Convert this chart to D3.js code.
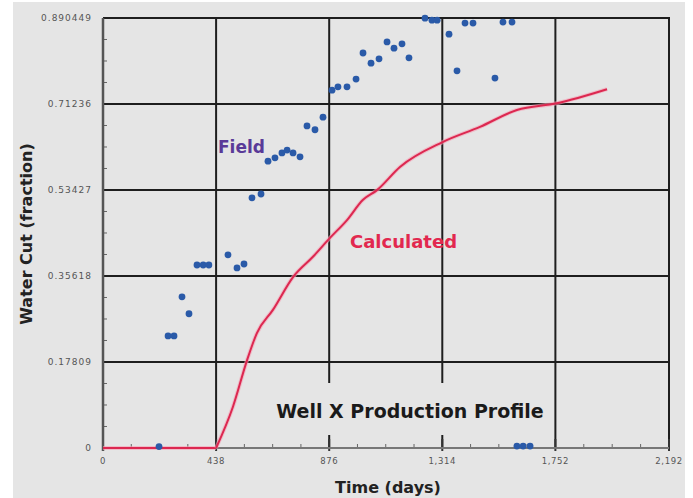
<!DOCTYPE html>
<meta charset="utf-8">
<script src="https://d3js.org/d3.v7.min.js"></script>
<style>
  body { margin: 0; background: #fff; }
  text { font-family: "DejaVu Sans", "Noto Sans", sans-serif; }
</style>
<div id="my_dataviz"></div>
<script>

// tick values and labels
var xTicks = [0, 438, 876, 1314, 1752, 2192];
var xTickLabels = ["0", "438", "876", "1,314", "1,752", "2,192"];
var yTicks = [0, 0.17809, 0.35618, 0.53427, 0.71236, 0.890449];
var yTickLabels = ["0", "0.17809", "0.35618", "0.53427", "0.71236", "0.890449"];

// field measurements (days, water cut)
var fieldDays = [217, 252, 275, 306, 333, 364, 388, 410, 484, 519, 546, 577, 612,
  639, 666, 693, 713, 736, 763, 790, 821, 852, 887, 910, 945, 980,
  1007, 1038, 1069, 1100, 1127, 1158, 1185, 1247, 1274, 1294, 1340, 1371,
  1402, 1433, 1518, 1549, 1584, 1603, 1627, 1654];
var fieldCut = [0.003, 0.232, 0.232, 0.313, 0.278, 0.379, 0.379, 0.379, 0.400, 0.373, 0.381, 0.518, 0.526,
  0.594, 0.601, 0.611, 0.617, 0.611, 0.603, 0.667, 0.659, 0.685, 0.741, 0.748, 0.748, 0.764,
  0.818, 0.797, 0.806, 0.841, 0.828, 0.837, 0.808, 0.890, 0.886, 0.886, 0.857, 0.781,
  0.880, 0.880, 0.766, 0.882, 0.882, 0.004, 0.004, 0.004];

// calculated profile (days, water cut)
var calcDays = [0, 438, 503, 558, 596, 658, 736, 813, 879, 945, 1007, 1061, 1150, 1317, 1460, 1603, 1758, 1952];
var calcCut = [0, 0, 0.085, 0.182, 0.238, 0.286, 0.354, 0.396, 0.435, 0.472, 0.514, 0.534, 0.582, 0.634, 0.665, 0.700, 0.714, 0.743];

var W = 693, H = 498;
var margin = {top: 18, right: 24, bottom: 50, left: 103};

var svg = d3.select("#my_dataviz")
    .append("svg")
    .attr("width", W)
    .attr("height", H);

// grey background
svg.append("rect")
    .attr("x", 13).attr("y", 2)
    .attr("width", 672).attr("height", H - 2)
    .style("fill", "#e5e5e5");

var x = d3.scaleLinear()
    .domain([0, 2192])
    .range([margin.left, W - margin.right]);
var y = d3.scaleLinear()
    .domain([0, 0.890449])
    .range([H - margin.bottom, margin.top]);

// minor ticks: 4 steps between majors
var xMinor = [], yMinor = [];
for (var i = 0; i < xTicks.length - 1; i++) {
  for (var k = 1; k < 4; k++) {
    xMinor.push(xTicks[i] + (xTicks[i + 1] - xTicks[i]) * k / 4);
    yMinor.push(yTicks[i] + (yTicks[i + 1] - yTicks[i]) * k / 4);
  }
}

// grid lines
svg.append("g")
    .selectAll("line")
    .data(xTicks.slice(1))
    .enter().append("line")
    .attr("x1", function (d) { return x(d); })
    .attr("x2", function (d) { return x(d); })
    .attr("y1", y(0.890449) - 1)
    .attr("y2", y(0))
    .attr("stroke", "#1e1e1e")
    .attr("stroke-width", 2);

svg.append("g")
    .selectAll("line")
    .data(yTicks.slice(1))
    .enter().append("line")
    .attr("x1", x(0))
    .attr("x2", x(2192) + 1)
    .attr("y1", function (d) { return y(d); })
    .attr("y2", function (d) { return y(d); })
    .attr("stroke", "#1e1e1e")
    .attr("stroke-width", 2);

// title box hides the grid behind it
svg.append("rect")
    .attr("x", 266).attr("y", 383)
    .attr("width", 282).attr("height", 52)
    .style("fill", "#e5e5e5");

// major tick stubs on the x axis
svg.append("g")
    .selectAll("line")
    .data(xTicks)
    .enter().append("line")
    .attr("x1", function (d) { return x(d); })
    .attr("x2", function (d) { return x(d); })
    .attr("y1", y(0) - 9)
    .attr("y2", y(0) + 3)
    .attr("stroke", "#333")
    .attr("stroke-width", 2);

// minor ticks
svg.append("g")
    .selectAll("line")
    .data(xMinor)
    .enter().append("line")
    .attr("x1", function (d) { return x(d); })
    .attr("x2", function (d) { return x(d); })
    .attr("y1", y(0) - 4)
    .attr("y2", y(0))
    .attr("stroke", "#666")
    .attr("stroke-width", 1);

svg.append("g")
    .selectAll("line")
    .data(yMinor)
    .enter().append("line")
    .attr("x1", x(0))
    .attr("x2", x(0) + 4)
    .attr("y1", function (d) { return y(d); })
    .attr("y2", function (d) { return y(d); })
    .attr("stroke", "#666")
    .attr("stroke-width", 1);

// axis lines
svg.append("line")
    .attr("x1", x(0)).attr("x2", x(2192))
    .attr("y1", y(0)).attr("y2", y(0))
    .attr("stroke", "#777").attr("stroke-width", 2);
svg.append("line")
    .attr("x1", x(0)).attr("x2", x(0))
    .attr("y1", y(0) + 3).attr("y2", y(0.890449))
    .attr("stroke", "#555").attr("stroke-width", 2.5);

// tick labels
svg.append("g")
    .selectAll("text")
    .data(xTicks)
    .enter().append("text")
    .attr("x", function (d) { return x(d); })
    .attr("y", y(0) + 16)
    .attr("text-anchor", "middle")
    .style("font-size", "8.5px")
    .style("letter-spacing", "0.6px")
    .style("fill", "#555")
    .text(function (d, i) { return xTickLabels[i]; });

svg.append("g")
    .selectAll("text")
    .data(yTicks)
    .enter().append("text")
    .attr("x", x(0) - 11)
    .attr("y", function (d) { return y(d) + 3; })
    .attr("text-anchor", "end")
    .style("font-size", "9px")
    .style("letter-spacing", "1px")
    .style("fill", "#555")
    .text(function (d, i) { return yTickLabels[i]; });

// calculated curve: flat part, then a smooth rise from day 438
var flatLine = d3.line()
    .x(function (d, i) { return x(calcDays[i]); })
    .y(function (d) { return y(d); });
var riseLine = d3.line()
    .x(function (d, i) { return x(calcDays[i + 1]); })
    .y(function (d) { return y(d); })
    .curve(d3.curveMonotoneX);

var pieces = [
  {gen: flatLine, pts: calcCut.slice(0, 2)},
  {gen: riseLine, pts: calcCut.slice(1)}
];

pieces.forEach(function (p) {
  svg.append("path")
      .datum(p.pts)
      .attr("d", p.gen)
      .attr("fill", "none")
      .attr("stroke", "#f5a0b4")
      .attr("stroke-width", 4)
      .attr("stroke-linejoin", "round")
      .attr("opacity", 0.6);
  svg.append("path")
      .datum(p.pts)
      .attr("d", p.gen)
      .attr("fill", "none")
      .attr("stroke", "#dc2850")
      .attr("stroke-linejoin", "round")
      .attr("stroke-width", 2);
});

// field points
svg.append("g")
    .selectAll("circle")
    .data(fieldCut)
    .enter().append("circle")
    .attr("cx", function (d, i) { return x(fieldDays[i]); })
    .attr("cy", function (d) { return y(d); })
    .attr("r", 3.4)
    .style("fill", "#2a5aa8");

// annotations
svg.append("text")
    .attr("x", 218).attr("y", 153)
    .style("font-size", "17px").style("font-weight", "bold")
    .style("fill", "#5a3a98")
    .text("Field");

svg.append("text")
    .attr("x", 350).attr("y", 248)
    .style("font-size", "18px").style("font-weight", "bold")
    .style("fill", "#e2284f")
    .text("Calculated");

svg.append("text")
    .attr("x", 410).attr("y", 418)
    .attr("text-anchor", "middle")
    .style("font-size", "19px").style("font-weight", "bold")
    .style("fill", "#1a1a1a")
    .text("Well X Production Profile");

// axis titles
svg.append("text")
    .attr("x", 388).attr("y", 493)
    .attr("text-anchor", "middle")
    .style("font-size", "16px").style("font-weight", "bold")
    .style("fill", "#222")
    .text("Time (days)");

svg.append("text")
    .attr("transform", "translate(32,234) rotate(-90)")
    .attr("text-anchor", "middle")
    .style("font-size", "16px").style("font-weight", "bold")
    .style("fill", "#222")
    .text("Water Cut (fraction)");

</script>
